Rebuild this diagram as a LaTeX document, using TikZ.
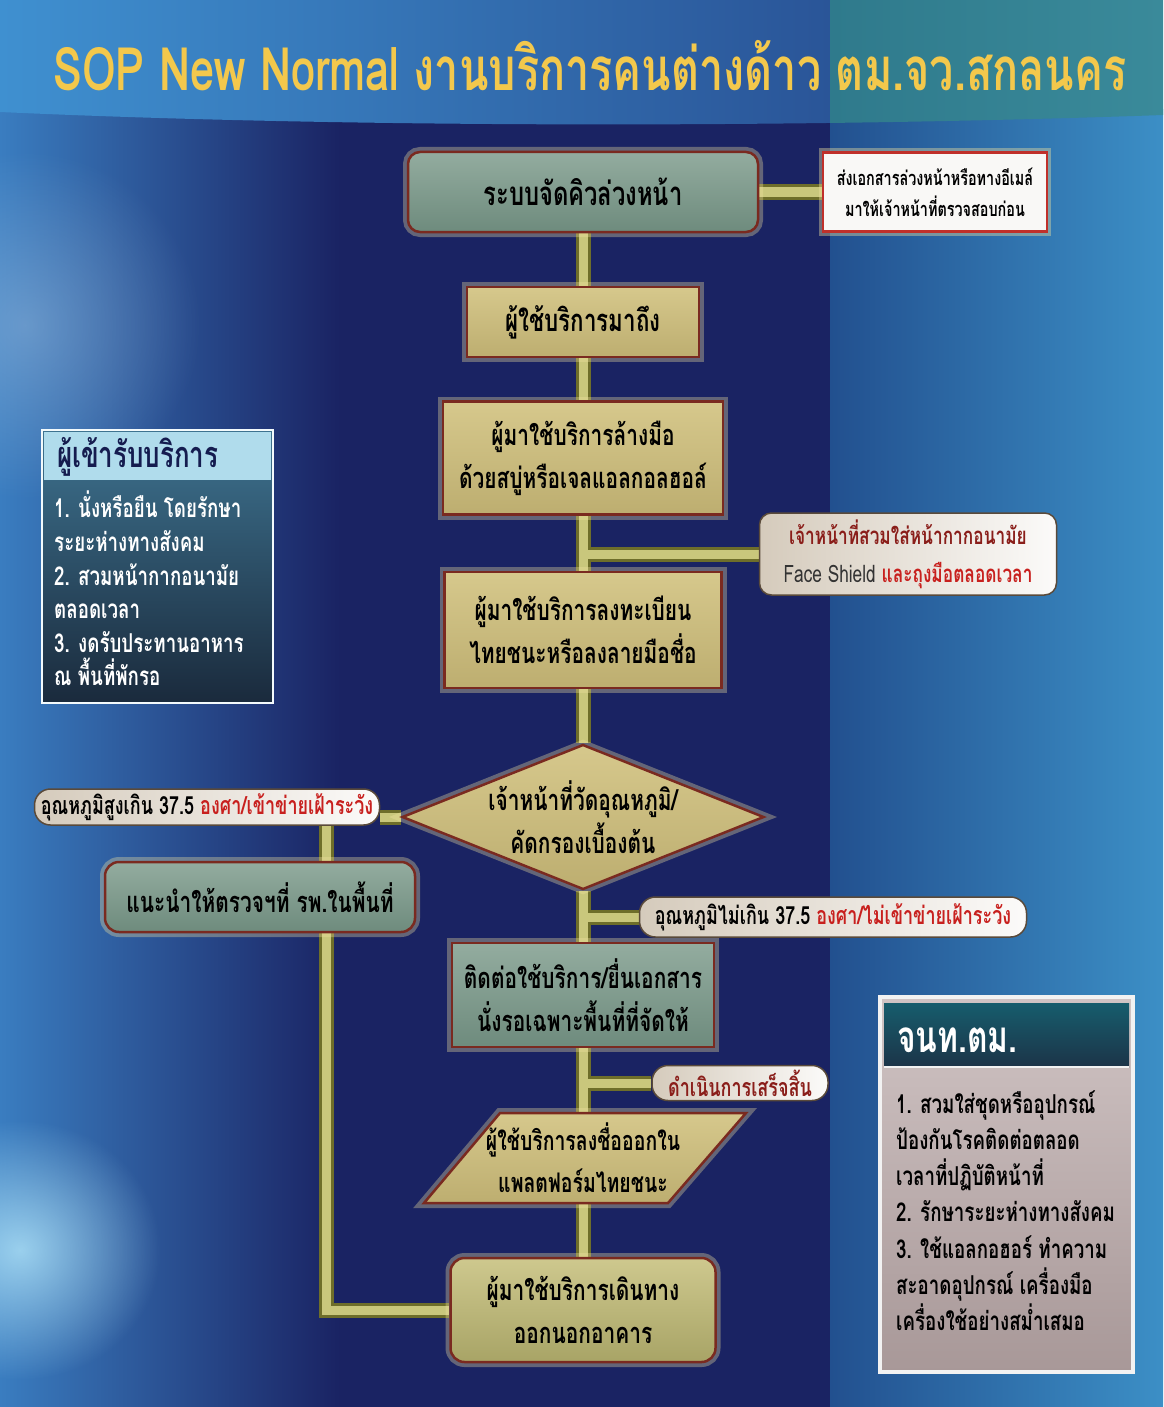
\documentclass[tikz,border=0pt]{standalone}
\usepackage{fontspec}
\newfontfamily\thai[Script=Thai, FakeStretch=0.72]{Loma}
\usetikzlibrary{shapes.geometric,fadings}
\tikzfading[name=myglow, inner color=transparent!0, outer color=transparent!100]
\definecolor{navy}{HTML}{1A2363}
\definecolor{bgleft}{HTML}{3A7DC0}
\definecolor{bgr1}{HTML}{22508F}
\definecolor{bgr2}{HTML}{3C8FC6}
\definecolor{band1}{HTML}{3F90D0}
\definecolor{band2}{HTML}{2A5598}
\definecolor{band3}{HTML}{2F7A8C}
\definecolor{band4}{HTML}{3A8A9A}
\definecolor{gold}{HTML}{F3C84C}
\definecolor{boxedge}{HTML}{7A2A20}
\definecolor{glowc}{HTML}{F0E2A0}
\definecolor{teal1}{HTML}{93AC9F}
\definecolor{teal2}{HTML}{6E8B7D}
\definecolor{khaki1}{HTML}{D6C88C}
\definecolor{khaki2}{HTML}{BDAE70}
\definecolor{olive1}{HTML}{CEC88E}
\definecolor{olive2}{HTML}{A8A466}
\definecolor{connedge}{HTML}{6E6E2A}
\definecolor{connfill}{HTML}{C9C77C}
\definecolor{nred}{HTML}{C8201E}
\definecolor{nmaroon}{HTML}{8A1E1A}
\definecolor{ntan}{HTML}{B9A88F}
\definecolor{noteedge}{HTML}{C0302A}
\definecolor{capedge}{HTML}{5A4A3A}
\definecolor{lphead}{HTML}{B0DCEC}
\definecolor{lpb1}{HTML}{3E7390}
\definecolor{lpb2}{HTML}{1A2A3C}
\definecolor{rphead}{HTML}{1C3448}
\definecolor{rpb1}{HTML}{D0C4C4}
\definecolor{rpb2}{HTML}{A89898}
\definecolor{dgray}{HTML}{333333}
\pgfdeclarelayer{bg}
\pgfdeclarelayer{conn}
\pgfsetlayers{bg,conn,main}
\tikzset{
  boxbase/.style={draw=boxedge, line width=2.5pt, align=center, inner sep=0pt,
    font=\thai\bfseries\fontsize{29}{43}\selectfont, text=black,
    preaction={draw=glowc, line width=10pt, opacity=0.35}},
  tealbox/.style={boxbase, top color=teal1, bottom color=teal2},
  khakibox/.style={boxbase, top color=khaki1, bottom color=khaki2},
  capnote/.style={draw=capedge, line width=1.5pt, rounded corners=16pt, align=center,
    left color=ntan!60, middle color=white, right color=white!95!ntan, inner sep=0pt,
    font=\thai\bfseries\fontsize{25}{30}\selectfont, text=black},
  connout/.style={draw=connedge, line width=15pt},
  connin/.style={draw=connfill, line width=9pt},
  plain/.style={inner sep=0pt, align=left}
}
\begin{document}
\begin{tikzpicture}[x=1pt,y=-1pt]
\useasboundingbox (0,0) rectangle (1163,1407);
\begin{pgfonlayer}{bg}
  \fill[navy] (0,0) rectangle (1163,1407);
  \shade[left color=bgleft, right color=navy] (0,110) rectangle (340,1407);
  \shade[left color=bgr1, right color=bgr2] (830,110) rectangle (1163,1407);
  \fill[white!70!cyan, path fading=myglow, opacity=0.8] (-120,1120) rectangle (160,1380);
  \fill[white!60!bgleft, path fading=myglow, opacity=0.4] (-150,150) rectangle (200,500);
  \begin{scope}
    \clip (0,0) -- (1163,0) -- (1163,115) .. controls (800,128) and (350,128) .. (0,112) -- cycle;
    \shade[left color=band1, right color=band2] (0,0) rectangle (830,140);
    \shade[left color=band3, right color=band4] (830,0) rectangle (1163,140);
  \end{scope}
\end{pgfonlayer}

% title
\node[font=\thai\bfseries\fontsize{60}{70}\selectfont, text=gold, inner sep=0pt] (title) at (590,66)
  {SOP New Normal งานบริการคนต่างด้าว ตม.จว.สกลนคร};

% main flow
\node[tealbox, rounded corners=12pt, minimum width=350pt, minimum height=80pt, font=\thai\bfseries\fontsize{33}{43}\selectfont] (b1) at (583,192) {ระบบจัดคิวล่วงหน้า};
\node[khakibox, minimum width=232pt, minimum height=70pt, font=\thai\bfseries\fontsize{31}{43}\selectfont] (b2) at (583,322) {ผู้ใช้บริการมาถึง};
\node[khakibox, minimum width=280pt, minimum height=113pt] (b3) at (583,458) {ผู้มาใช้บริการล้างมือ\\ด้วยสบู่หรือเจลแอลกอลฮอล์};
\node[khakibox, minimum width=277pt, minimum height=116pt] (b4) at (583,630) {ผู้มาใช้บริการลงทะเบียน\\ไทยชนะหรือลงลายมือชื่อ};
\node[boxbase, shape=diamond, top color=khaki1, bottom color=khaki2, minimum width=362pt, minimum height=145pt] (dm) at (583,817) {};
\node[plain, align=center, font=\thai\bfseries\fontsize{29}{43}\selectfont] (dmt) at (583,817) {เจ้าหน้าที่วัดอุณหภูมิ/\\คัดกรองเบื้องต้น};
\node[tealbox, minimum width=262pt, minimum height=104pt] (b5) at (583,995) {ติดต่อใช้บริการ/ยื่นเอกสาร\\นั่งรอเฉพาะพื้นที่ที่จัดให้};
\coordinate (pt) at (583,1113);
\coordinate (pb) at (583,1203);
\draw[draw=boxedge, line width=2.5pt, top color=khaki1, bottom color=khaki2, preaction={draw=glowc, line width=10pt, opacity=0.35}]
  (500,1113) -- (746,1113) -- (668,1203) -- (424,1203) -- cycle;
\node[plain, align=center, font=\thai\bfseries\fontsize{27}{42}\selectfont] (pa) at (583,1158) {ผู้ใช้บริการลงชื่อออกใน\\แพลตฟอร์มไทยชนะ};
\node[boxbase, rounded corners=14pt, top color=olive1, bottom color=olive2, minimum width=265pt, minimum height=104pt] (b6) at (583,1310) {ผู้มาใช้บริการเดินทาง\\ออกนอกอาคาร};

% side branch
\node[tealbox, rounded corners=14pt, minimum width=310pt, minimum height=70pt] (lbox) at (260,897) {แนะนำให้ตรวจฯที่ รพ.ในพื้นที่};
\coordinate (lx) at (326,0);

% notes
\node[draw=noteedge, line width=2.5pt, fill=white!92!ntan, align=center, inner sep=0pt,
  minimum width=224pt, minimum height=79pt, font=\thai\bfseries\fontsize{20}{31}\selectfont,
  preaction={draw=glowc, line width=8pt, opacity=0.4}] (n1) at (935,192)
  {ส่งเอกสารล่วงหน้าหรือทางอีเมล์\\มาให้เจ้าหน้าที่ตรวจสอบก่อน};
\node[capnote, rounded corners=12pt, minimum width=297pt, minimum height=82pt, font=\thai\bfseries\fontsize{24}{38}\selectfont] (n2) at (908,554)
  {\textcolor{nmaroon}{เจ้าหน้าที่สวมใส่หน้ากากอนามัย}\\\textcolor{dgray}{\mdseries Face Shield} \textcolor{nred}{และถุงมือตลอดเวลา}};
\node[capnote, minimum width=345pt, minimum height=36pt] (ln) at (207,807)
  {อุณหภูมิสูงเกิน 37.5 \textcolor{nred}{องศา/เข้าข่ายเฝ้าระวัง}};
\node[capnote, minimum width=387pt, minimum height=40pt] (rn) at (833,917)
  {อุณหภูมิไม่เกิน 37.5 \textcolor{nred}{องศา/ไม่เข้าข่ายเฝ้าระวัง}};
\node[capnote, minimum width=176pt, minimum height=35pt, text=nmaroon] (dn) at (740,1083)
  {ดำเนินการเสร็จสิ้น};

% left panel
\node[draw=white!85!lphead, line width=2pt, top color=lpb1, bottom color=lpb2, minimum width=231pt, minimum height=273pt, inner sep=0pt] (lp) at (157.5,566.5) {};
\node[fill=lphead, minimum width=227pt, minimum height=48pt, inner sep=0pt] (lph) at (157.5,456) {};
\node[plain, anchor=west, text=navy!80!black, font=\thai\bfseries\fontsize{36}{40}\selectfont] (lpht) at (57,457) {ผู้เข้ารับบริการ};
\node[plain, anchor=north west, text=white, font=\thai\bfseries\fontsize{26}{33.6}\selectfont] (lpb) at (54,491)
  {1. นั่งหรือยืน โดยรักษา\\ระยะห่างทางสังคม\\2. สวมหน้ากากอนามัย\\ตลอดเวลา\\3. งดรับประทานอาหาร\\ณ พื้นที่พักรอ};

% right panel
\node[draw=white!90!gray, line width=4pt, top color=rpb1, bottom color=rpb2, minimum width=253pt, minimum height=375pt, inner sep=0pt] (rp) at (1006.5,1184.5) {};
\node[top color=rphead!80!cyan, bottom color=rphead, minimum width=245pt, minimum height=64pt, inner sep=0pt] (rph) at (1006.5,1035) {};
\draw[white!90!gray, line width=2pt] (rph.south west) -- (rph.south east);
\node[plain, anchor=west, text=white, font=\thai\bfseries\fontsize{44}{48}\selectfont] (rpht) at (897,1040) {จนท.ตม.};
\node[plain, anchor=north west, text=black, font=\thai\bfseries\fontsize{26}{36.3}\selectfont] (rpb) at (896,1090)
  {1. สวมใส่ชุดหรืออุปกรณ์\\ป้องกันโรคติดต่อตลอด\\เวลาที่ปฏิบัติหน้าที่\\2. รักษาระยะห่างทางสังคม\\3. ใช้แอลกอฮอร์ ทำความ\\สะอาดอุปกรณ์ เครื่องมือ\\เครื่องใช้อย่างสม่ำเสมอ};

% connectors
\begin{pgfonlayer}{conn}
\foreach \st in {connout,connin}{
  \draw[\st] (b1.south) -- (b2.north);
  \draw[\st] (b2.south) -- (b3.north);
  \draw[\st] (b3.south) -- (b4.north);
  \draw[\st] (b4.south) -- (dm.north);
  \draw[\st] (dm.south) -- (b5.north);
  \draw[\st] (b5.south) -- (pt);
  \draw[\st] (pb) -- (b6.north);
  \draw[\st] (b1.east) -- (n1.west);
  \draw[\st] (b3.south |- n2.west) -- (n2.west);
  \draw[\st] (dm.west) -- (dm.west -| ln.east);
  \draw[\st] (ln.south -| lx) -- (lbox.north -| lx);
  \draw[\st, line join=miter] (lbox.south -| lx) |- (b6.west);
  \draw[\st] (dm.south |- rn.west) -- (rn.west);
  \draw[\st] (b5.south |- dn.west) -- (dn.west);
}
\end{pgfonlayer}
\end{tikzpicture}
\end{document}
